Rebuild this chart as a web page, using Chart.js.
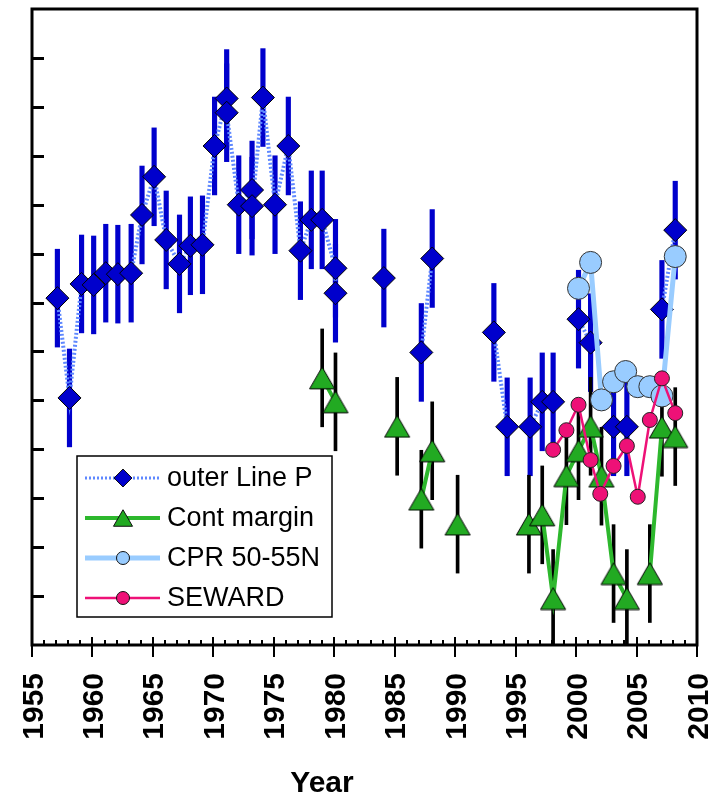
<!DOCTYPE html>
<html lang="en">
<head>
<meta charset="UTF-8">
<title>Time series by year</title>
<script src="https://cdn.jsdelivr.net/npm/chart.js"></script>
<style>
  html, body { margin: 0; padding: 0; background: #fff; }
  #wrap { position: relative; width: 716px; height: 795px; }
</style>
</head>
<body>
<div id="wrap"><canvas id="yearChart"></canvas></div>
<script>
// outer Line P (duplicate years are two samples in the same year)
const linePYears = [1957.1, 1958.1, 1959.1, 1960.1, 1961.1, 1962.1, 1963.2, 1964.1, 1965.1, 1966.1,
                    1967.2, 1968.1, 1969.1, 1970.1, 1971.1, 1971.1, 1972.1, 1973.2, 1973.2, 1974.1,
                    1975.1, 1976.2, 1977.2, 1978.1, 1979.0, 1980.1, 1980.1, 1984.1, 1987.2, 1988.1,
                    1993.2, 1994.3, 1996.2, 1997.2, 1998.1, 2000.2, 2001.2, 2003.1, 2004.2, 2007.1,
                    2008.2];
const linePValues = [7.09, 5.05, 7.38, 7.36, 7.60, 7.58, 7.60, 8.79, 9.57, 8.28,
                     7.79, 8.16, 8.18, 10.20, 11.17, 10.88, 9.00, 9.30, 8.97, 11.19,
                     9.00, 10.20, 8.06, 8.69, 8.69, 7.70, 7.19, 7.50, 5.98, 7.90,
                     6.39, 4.46, 4.46, 4.97, 4.97, 6.66, 6.18, 4.46, 4.46, 6.86,
                     8.48];
const linePErr = 1.0;

// Cont margin
const contYears = [1979.0, 1980.1, 1985.2, 1987.2, 1988.1, 1990.2, 1996.1, 1997.2, 1998.1, 1999.2,
                   2000.2, 2001.2, 2002.1, 2003.1, 2004.2, 2006.1, 2007.1, 2008.2];
const contValues = [5.46, 4.97, 4.47, 2.98, 3.97, 2.47, 2.47, 2.66, 0.95, 3.46,
                    3.97, 4.47, 3.45, 1.46, 0.95, 1.46, 4.45, 4.26];
const contErr = 1.0;

// CPR 50-55N
const cprYears = [2000.2, 2001.2, 2002.1, 2003.1, 2004.1, 2005.1, 2006.1, 2007.1, 2008.2];
const cprValues = [7.29, 7.82, 5.01, 5.38, 5.59, 5.28, 5.28, 5.09, 7.94];

// SEWARD
const sewardYears = [1998.1, 1999.2, 2000.2, 2001.2, 2002.0, 2003.1, 2004.2, 2005.1, 2006.1, 2007.1, 2008.2];
const sewardValues = [3.99, 4.39, 4.91, 3.78, 3.09, 3.66, 4.07, 3.03, 4.60, 5.45, 4.74];

const yearTicks = [1955, 1960, 1965, 1970, 1975, 1980, 1985, 1990, 1995, 2000, 2005, 2010];

// lines only join consecutive years; a null point breaks the line across a gap
function withGaps(years, values) {
  const pts = [];
  years.forEach((yr, i) => {
    if (i > 0 && yr - years[i - 1] > 1.5) pts.push({ x: (yr + years[i - 1]) / 2, y: null });
    pts.push({ x: yr, y: values[i] });
  });
  return pts;
}

function errorBars(years, values, err) {
  return years.map((yr, i) => ({ x: yr, y: [values[i] - err, values[i] + err] }));
}

const FONT = "'Liberation Sans', Arial, Helvetica, sans-serif";

const legendItems = [
  { label: 'outer Line P', line: '#5f88ff', width: 3, dash: [2, 2], shape: 'diamond', r: 9, fill: '#0000cc' },
  { label: 'Cont margin', line: '#2db82d', width: 4, dash: [], shape: 'triangle', r: 11, fill: '#22aa22' },
  { label: 'CPR 50-55N', line: '#99ccff', width: 5, dash: [], shape: 'circle', r: 6.5, fill: '#99ccff' },
  { label: 'SEWARD', line: '#ee1177', width: 2.5, dash: [], shape: 'circle', r: 6.5, fill: '#ee1177' }
];

function marker(ctx, shape, x, y, r) {
  ctx.beginPath();
  if (shape === 'diamond') {
    ctx.moveTo(x, y - r); ctx.lineTo(x + r, y); ctx.lineTo(x, y + r); ctx.lineTo(x - r, y);
  } else if (shape === 'triangle') {
    const h = r * 1.5, w = r * Math.sqrt(3) / 2;
    ctx.moveTo(x, y - h / 2); ctx.lineTo(x + w, y + h / 2); ctx.lineTo(x - w, y + h / 2);
  } else {
    ctx.arc(x, y, r, 0, Math.PI * 2);
  }
  ctx.closePath();
  ctx.fill();
  ctx.stroke();
}

// triangle sprite centred on its bounding box, so the error bar passes through its middle
function triangleSprite(r) {
  const w = Math.ceil(r * Math.sqrt(3)) + 2, h = Math.ceil(r * 1.5) + 2;
  const c = document.createElement('canvas');
  c.width = w; c.height = h;
  const g = c.getContext('2d');
  g.fillStyle = '#22aa22';
  g.strokeStyle = '#000';
  g.lineWidth = 1;
  marker(g, 'triangle', w / 2, h / 2, r);
  return c;
}

// frame, inward y ticks, major/minor year ticks with rotated labels, axis title, boxed legend
const decorations = {
  id: 'decorations',
  afterDatasetsDraw(chart) {
    const { ctx, chartArea: a, scales: { x, y } } = chart;
    ctx.save();
    ctx.strokeStyle = '#000';
    ctx.lineWidth = 3;
    ctx.strokeRect(a.left, a.top, a.right - a.left, a.bottom - a.top);

    ctx.beginPath();
    for (let v = 1; v <= 12; v++) {
      const py = Math.round(y.getPixelForValue(v)) + 0.5;
      ctx.moveTo(a.left, py);
      ctx.lineTo(a.left + 12, py);
    }
    ctx.stroke();

    ctx.lineWidth = 2;
    ctx.beginPath();
    for (let yr = 1955; yr <= 2010; yr++) {
      const px = Math.round(x.getPixelForValue(yr));
      if (yr % 5 === 0) {
        ctx.moveTo(px, a.bottom - 8);
        ctx.lineTo(px, a.bottom + 12);
      } else {
        ctx.moveTo(px, a.bottom - 5);
        ctx.lineTo(px, a.bottom);
      }
    }
    ctx.stroke();

    ctx.fillStyle = '#000';
    ctx.font = 'bold 30px ' + FONT;
    ctx.textAlign = 'right';
    ctx.textBaseline = 'alphabetic';
    yearTicks.forEach(v => {
      ctx.save();
      ctx.translate(x.getPixelForValue(v), a.bottom + 28);
      ctx.rotate(-Math.PI / 2);
      ctx.fillText(String(v), 0, 10.5);
      ctx.restore();
    });

    ctx.textAlign = 'center';
    ctx.fillText('Year', 322, 792);
    ctx.restore();
  },
  afterDraw(chart) {
    const ctx = chart.ctx;
    const box = { left: 77, top: 456, w: 255, h: 161 };
    ctx.save();
    ctx.fillStyle = '#fff';
    ctx.fillRect(box.left, box.top, box.w, box.h);
    ctx.strokeStyle = '#000';
    ctx.lineWidth = 1.5;
    ctx.strokeRect(box.left, box.top, box.w, box.h);

    ctx.font = '27px ' + FONT;
    ctx.textBaseline = 'middle';
    ctx.textAlign = 'left';
    legendItems.forEach((it, i) => {
      const cy = 478 + i * 40;
      ctx.strokeStyle = it.line;
      ctx.lineWidth = it.width;
      ctx.setLineDash(it.dash);
      ctx.beginPath();
      ctx.moveTo(85, cy);
      ctx.lineTo(160, cy);
      ctx.stroke();
      ctx.setLineDash([]);
      ctx.fillStyle = it.fill;
      ctx.strokeStyle = '#111';
      ctx.lineWidth = 1;
      marker(ctx, it.shape, 123, cy, it.r);
      ctx.fillStyle = '#000';
      ctx.fillText(it.label, 167, cy + 1);
    });
    ctx.restore();
  }
};

new Chart(document.getElementById('yearChart'), {
  type: 'line',
  data: {
    datasets: [
      {
        type: 'bar',
        label: 'outer Line P error',
        data: errorBars(linePYears, linePValues, linePErr),
        backgroundColor: '#0000cc',
        borderWidth: 0,
        barThickness: 4.5,
        grouped: false,
        order: 6
      },
      {
        label: 'outer Line P',
        data: withGaps(linePYears, linePValues),
        borderColor: '#5f88ff',
        borderWidth: 4,
        borderDash: [2, 2],
        pointStyle: 'rectRot',
        pointRadius: 11.5,
        pointBackgroundColor: '#0000cc',
        pointBorderColor: '#000',
        pointBorderWidth: 1,
        tension: 0,
        order: 5
      },
      {
        type: 'bar',
        label: 'Cont margin error',
        data: errorBars(contYears, contValues, contErr),
        backgroundColor: '#000',
        borderWidth: 0,
        barThickness: 3,
        grouped: false,
        order: 4
      },
      {
        label: 'Cont margin',
        data: withGaps(contYears, contValues),
        borderColor: '#2db82d',
        borderWidth: 4,
        pointStyle: triangleSprite(14.5),
        pointRadius: 14,
        tension: 0,
        order: 3
      },
      {
        label: 'CPR 50-55N',
        data: withGaps(cprYears, cprValues),
        borderColor: '#99ccff',
        borderWidth: 5,
        pointStyle: 'circle',
        pointRadius: 11,
        pointBackgroundColor: '#99ccff',
        pointBorderColor: '#333',
        pointBorderWidth: 1,
        tension: 0,
        order: 2
      },
      {
        label: 'SEWARD',
        data: withGaps(sewardYears, sewardValues),
        borderColor: '#ee1177',
        borderWidth: 2.5,
        pointStyle: 'circle',
        pointRadius: 7.5,
        pointBackgroundColor: '#ee1177',
        pointBorderColor: '#222',
        pointBorderWidth: 1,
        tension: 0,
        order: 1
      }
    ]
  },
  options: {
    responsive: true,
    maintainAspectRatio: false,
    animation: false,
    events: [],
    spanGaps: false,
    // room below the plot holds the year labels and the axis title drawn by the plugin
    layout: { autoPadding: false, padding: { left: 32, right: 19, top: 9, bottom: 150 } },
    plugins: { legend: { display: false }, tooltip: { enabled: false } },
    scales: {
      x: {
        type: 'linear',
        min: 1955,
        max: 2010,
        offset: false,
        grid: { display: false, drawTicks: false, offset: false },
        border: { display: false },
        ticks: { display: false, stepSize: 5 }
      },
      y: {
        type: 'linear',
        min: 0,
        max: 13,
        grid: { display: false, drawTicks: false },
        border: { display: false },
        ticks: { display: false, stepSize: 1 }
      }
    }
  },
  plugins: [decorations]
});
</script>
</body>
</html>
